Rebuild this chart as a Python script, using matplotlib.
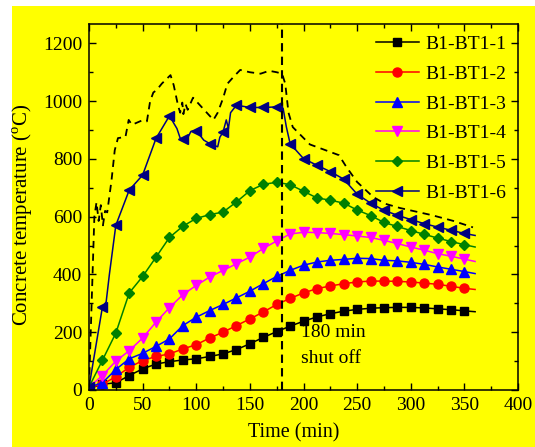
#!/usr/bin/env python3
# -*- coding: utf-8 -*-
"""Concrete temperature vs. time, B1-BT1 thermocouples (yellow panel style)."""

import matplotlib

matplotlib.use("Agg")
import matplotlib.pyplot as plt
from matplotlib.patches import Rectangle
from matplotlib.ticker import MultipleLocator

plt.rcParams["font.family"] = ["Liberation Serif", "DejaVu Serif"]
plt.rcParams["mathtext.fontset"] = "custom"
plt.rcParams["mathtext.rm"] = "Liberation Serif"

# time of the marked readings (min), last value is line end only
time = [0, 12.5, 25, 37.5, 50, 62.5, 75, 87.5, 100, 112.5, 125, 137.5, 150,
        162.5, 175, 187.5, 200, 212.5, 225, 237.5, 250, 262.5, 275, 287.5,
        300, 312.5, 325, 337.5, 350, 360]

bt1_1 = [5, 20, 25, 50, 73, 90, 98, 104, 108, 116, 125, 140, 160, 182, 202,
         221, 238, 253, 264, 273, 279, 283, 285, 286, 286, 284, 281, 278, 274, 271]
bt1_2 = [8, 20, 46, 78, 102, 116, 125, 142, 157, 180, 200, 223, 246, 270, 296,
         317, 336, 351, 360, 368, 374, 377, 377, 376, 374, 370, 366, 359, 352, 348]
bt1_3 = [10, 25, 71, 108, 127, 151, 177, 223, 252, 275, 296, 319, 342, 368, 393,
         414, 432, 443, 449, 452, 456, 455, 449, 447, 442, 435, 426, 418, 410, 403]
bt1_4 = [10, 50, 100, 136, 180, 235, 285, 330, 362, 391, 414, 437, 460, 490, 516,
         540, 546, 545, 542, 538, 533, 528, 518, 507, 495, 484, 472, 463, 453, 445]
bt1_5 = [10, 103, 197, 336, 393, 460, 528, 567, 594, 607, 616, 651, 690, 712, 719,
         711, 688, 665, 657, 647, 623, 604, 580, 566, 552, 539, 526, 514, 503, 495]

# BT1-6 has readings between the markers
bt1_6_time = [0, 12.5, 16, 19, 25, 37.5, 50, 62.5, 75, 82, 85, 87.5, 90, 95,
              100, 107, 112.5, 120, 122, 125, 128, 130, 132, 137.5, 150, 162.5,
              175, 181, 184, 187.5, 200, 212.5, 225, 237.5, 250, 262.5, 275,
              287.5, 300, 312.5, 325, 337.5, 350, 360]
bt1_6 = [10, 287, 305, 400, 570, 692, 744, 871, 949, 905, 872, 868, 858, 895,
         898, 865, 853, 842, 875, 893, 935, 905, 960, 986, 978, 978,
         980, 975, 911, 853, 801, 778, 756, 730, 678, 647, 622,
         605, 590, 576, 564, 553, 542, 535]

# unlabelled dashed curve
dash_time = [0, 5, 7, 9, 11, 13, 15, 17, 21, 24, 27, 34, 37, 40, 50, 54, 57,
             60, 63, 68, 76, 79, 83, 85, 87, 88, 90, 92, 97, 116, 120, 125,
             129, 135, 141, 150, 160, 168, 175, 180, 183, 186, 190, 206, 225,
             233, 240, 250, 265, 276, 290, 320, 340, 358]
dash_temp = [10, 600, 650, 585, 640, 570, 620, 615, 726, 830, 872, 876, 935,
             918, 934, 930, 1000, 1030, 1038, 1061, 1090, 1055, 985, 960, 995,
             955, 990, 970, 1012, 935, 960, 1010, 1060, 1085, 1108, 1100, 1095,
             1105, 1100, 1095, 1060, 960, 910, 850, 824, 813, 772, 720, 668,
             645, 630, 605, 585, 563]

labels = ["B1-BT1-1", "B1-BT1-2", "B1-BT1-3", "B1-BT1-4", "B1-BT1-5", "B1-BT1-6"]
shut_off = 180


def marked(ts):
    return [i for i, t in enumerate(ts) if t % 12.5 == 0 and t <= 350]


def main():
    fig = plt.figure(figsize=(5.35, 4.47), dpi=100)
    fig.patch.set_facecolor("white")
    fig.patches.append(Rectangle((12 / 535, 0), 1 - 12 / 535, 1 - 6 / 447,
                                 transform=fig.transFigure, facecolor="#FFFF00",
                                 edgecolor="none", zorder=-10))
    ax = fig.add_axes([89 / 535, 1 - 390 / 447, 429 / 535, 366 / 447])
    ax.set_facecolor("#FFFF00")

    series = [
        (time, bt1_1, "black", "s", 6),
        (time, bt1_2, "#FF0000", "o", 6.5),
        (time, bt1_3, "#0000FF", "^", 7),
        (time, bt1_4, "#FF00FF", "v", 7),
        (time, bt1_5, "#008000", "D", 5.5),
        (bt1_6_time, bt1_6, "#000080", "<", 7),
    ]
    for (ts, vs, c, m, ms), lab in zip(series, labels):
        ax.plot(ts, vs, color=c, marker=m, markersize=ms, linewidth=1.1,
                markevery=marked(ts), label=lab)

    ax.plot(dash_time, dash_temp, color="black", linewidth=1.3,
            linestyle=(0, (4, 3)))
    ax.axvline(shut_off, color="black", linewidth=1.5, linestyle=(0, (4, 2.5)))
    ax.text(198, 200, "180 min", fontsize=14, ha="left", va="center")
    ax.text(198, 110, "shut off", fontsize=14, ha="left", va="center")

    ax.set_xlim(0, 400)
    ax.set_ylim(0, 1267)
    ax.xaxis.set_major_locator(MultipleLocator(50))
    ax.xaxis.set_minor_locator(MultipleLocator(25))
    ax.yaxis.set_major_locator(MultipleLocator(200))
    ax.yaxis.set_minor_locator(MultipleLocator(100))
    ax.tick_params(which="both", direction="in", top=True, right=True,
                   labelsize=14, width=1)
    ax.tick_params(which="major", length=5, pad=5)
    ax.tick_params(which="minor", length=3)
    for sp in ax.spines.values():
        sp.set_linewidth(1.1)

    ax.set_xlabel("Time (min)", fontsize=14.5, labelpad=1)
    ax.xaxis.set_label_coords(0.476, -0.09)
    ax.set_ylabel(r"Concrete temperature ($^{\mathrm{o}}$C)", fontsize=15)
    ax.yaxis.set_label_coords(-0.125, 0.48)

    ax.legend(loc="upper right", bbox_to_anchor=(1.0, 1.0), frameon=False,
              fontsize=14, handlelength=2.2, handletextpad=0.35,
              labelspacing=0.62, borderaxespad=0.2)

    fig.savefig("out.png", dpi=100, facecolor=fig.get_facecolor())
    plt.close(fig)


if __name__ == "__main__":
    main()
